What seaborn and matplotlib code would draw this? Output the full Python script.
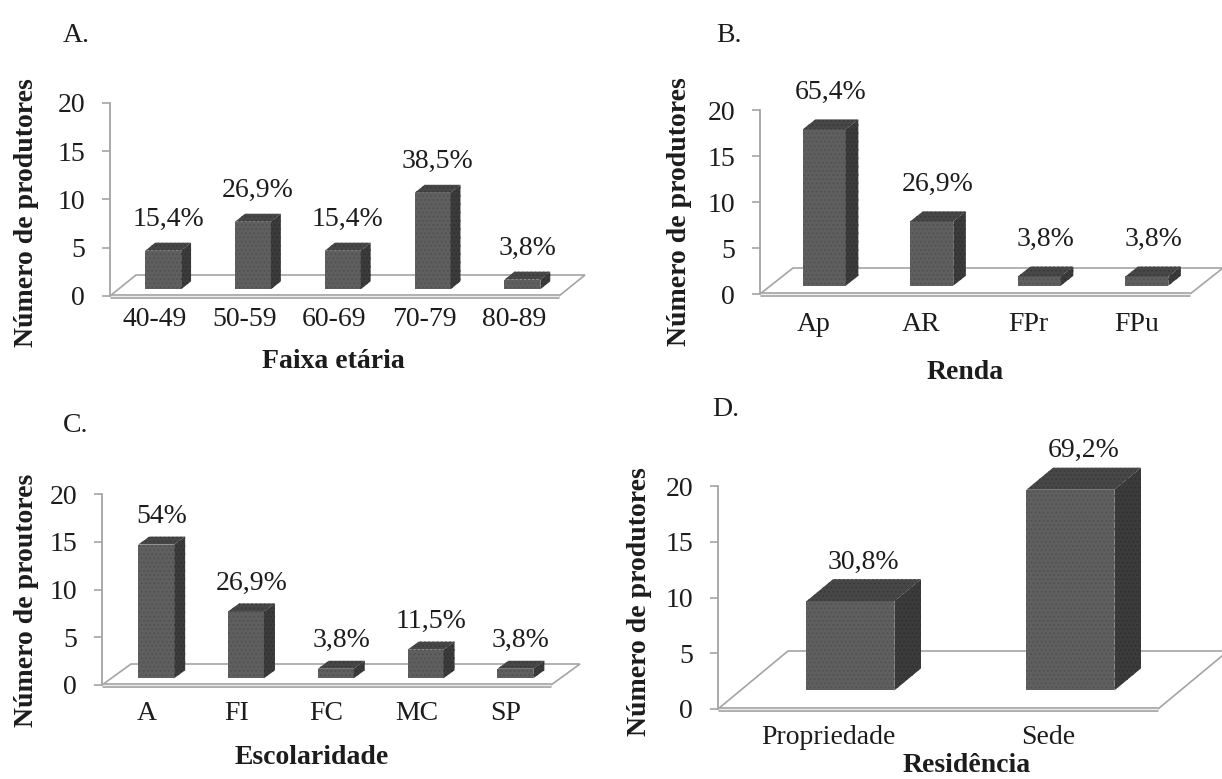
import matplotlib
matplotlib.use("Agg")
import matplotlib.pyplot as plt
from matplotlib.patches import Polygon
import pandas as pd
import seaborn as sns

W, H = 1222, 779

# A. Faixa etária
faixa_cats = ["40-49", "50-59", "60-69", "70-79", "80-89"]
faixa_vals = [4, 7, 4, 10, 1]
faixa_pct = ["15,4%", "26,9%", "15,4%", "38,5%", "3,8%"]

# B. Renda
renda_cats = ["Ap", "AR", "FPr", "FPu"]
renda_vals = [17, 7, 1, 1]
renda_pct = ["65,4%", "26,9%", "3,8%", "3,8%"]

# C. Escolaridade
escol_cats = ["A", "FI", "FC", "MC", "SP"]
escol_vals = [14, 7, 1, 3, 1]
escol_pct = ["54%", "26,9%", "3,8%", "11,5%", "3,8%"]

# D. Residência
resid_cats = ["Propriedade", "Sede"]
resid_vals = [8, 18]
resid_pct = ["30,8%", "69,2%"]

y_ticks = [0, 5, 10, 15, 20]

sns.set_theme(style="white")
plt.rcParams["font.family"] = ["Liberation Serif", "DejaVu Serif"]
plt.rcParams["hatch.linewidth"] = 0.8

FS = 20
FRONT = "#5f5f5f"
TOP = "#474747"
SIDE = "#3b3b3b"
DOT = "#525252"
GRID = "#a4a4a4"
INK = "#1c1c1c"


def px(v):
    return v * 72.0 / 100.0


def draw_panel(fig, cats, vals, pcts, box, depth, ylabel, xlabel,
               ylabel_xy, xlabel_xy, letter, letter_xy, label_gap, xpad):
    x0, x1, ytop, ybot = box
    ax = fig.add_axes([x0 / W, 1 - ybot / H, (x1 - x0) / W, (ybot - ytop) / H])
    n = len(cats)
    df = pd.DataFrame({"cat": cats, "n": vals})
    sns.barplot(data=df, x="cat", y="n", ax=ax, color=FRONT, saturation=1,
                width=0.4, errorbar=None, edgecolor=DOT, linewidth=0,
                hatch="....", zorder=3)
    ax.set_xlim(-0.5, n - 0.5)
    ax.set_ylim(0, 20)

    # depth of the 3-D box, converted from pixels into data units
    ux = (x1 - x0) / n
    uy = (ybot - ytop) / 20.0
    dx, dy = depth[0] / ux, depth[1] / uy
    fx, fy = 0.32 * dx, 0.32 * dy
    bx, by = 0.38 * dx, 0.38 * dy

    # floor
    floor = Polygon([(-0.5, 0), (n - 0.5, 0), (n - 0.5 + dx, dy), (-0.5 + dx, dy)],
                    closed=True, facecolor="white", edgecolor=GRID, lw=1.2,
                    zorder=1, clip_on=False)
    ax.add_patch(floor)
    ax.plot([-0.5, n - 0.5], [0, 0], color=GRID, lw=3.4,
            solid_capstyle="butt", zorder=2, clip_on=False)
    ax.plot([-0.5, n - 0.5], [0, 0], color="#eeeeee", lw=1.0,
            solid_capstyle="butt", zorder=2.1, clip_on=False)

    for p, lab in zip(ax.patches[:n], pcts):
        p.set_x(p.get_x() + fx)
        p.set_y(fy)
        p.set_clip_on(False)
        xa, xb = p.get_x(), p.get_x() + p.get_width()
        ya, yb = fy, fy + p.get_height()
        top = Polygon([(xa, yb), (xb, yb), (xb + bx, yb + by), (xa + bx, yb + by)],
                      closed=True, facecolor=TOP, edgecolor="#3a3a3a", lw=0,
                      hatch="....", zorder=3, clip_on=False)
        side = Polygon([(xb, ya), (xb, yb), (xb + bx, yb + by), (xb + bx, ya + by)],
                       closed=True, facecolor=SIDE, edgecolor="#303030", lw=0,
                       hatch="....", zorder=3, clip_on=False)
        ax.add_patch(top)
        ax.add_patch(side)
        ax.annotate(lab, xy=((xa + xb + bx) / 2, yb + by), xytext=(0, label_gap),
                    textcoords="offset pixels", ha="center", va="center",
                    fontsize=FS, color=INK, annotation_clip=False)

    for s in ["top", "right", "bottom"]:
        ax.spines[s].set_visible(False)
    ax.spines["left"].set_color(GRID)
    ax.spines["left"].set_linewidth(1.3)
    ax.spines["left"].set_zorder(2.5)
    ax.set_yticks(y_ticks)
    ax.tick_params(axis="y", left=True, length=px(8), width=1.2, color=GRID,
                   pad=px(17), labelsize=FS, labelcolor=INK)
    ax.set_xticks(range(n))
    ax.set_xticklabels(cats)
    ax.tick_params(axis="x", bottom=False, length=0, pad=px(xpad),
                   labelsize=FS, labelcolor=INK)
    ax.set_xlabel("")
    ax.set_ylabel("")
    ax.set_facecolor("none")

    fig.text(ylabel_xy[0] / W, 1 - ylabel_xy[1] / H, ylabel, rotation=90,
             ha="center", va="center", fontsize=FS, fontweight="bold", color=INK)
    fig.text(xlabel_xy[0] / W, 1 - xlabel_xy[1] / H, xlabel,
             ha="center", va="center", fontsize=FS, fontweight="bold", color=INK)
    fig.text(letter_xy[0] / W, 1 - letter_xy[1] / H, letter,
             ha="center", va="center", fontsize=FS, color=INK)
    return ax


fig = plt.figure(figsize=(W / 100, H / 100), dpi=100)
fig.patch.set_facecolor("white")

draw_panel(fig, faixa_cats, faixa_vals, faixa_pct, (110, 559, 103, 296), (26, 21),
           "Número de produtores", "Faixa etária", (27, 213), (333, 362),
           "A.", (76, 35), 23, 11)
draw_panel(fig, renda_cats, renda_vals, renda_pct, (760, 1190, 110, 294), (33, 26),
           "Número de produtores", "Renda", (680, 212), (965, 372),
           "B.", (729, 35), 27, 18)
draw_panel(fig, escol_cats, escol_vals, escol_pct, (102, 551, 494, 685), (29, 21),
           "Número de proutores", "Escolaridade", (27, 600), (312, 758),
           "C.", (76, 426), 20, 16)
draw_panel(fig, resid_cats, resid_vals, resid_pct, (718, 1158, 486, 709), (70, 58),
           "Número de produtores", "Residência", (640, 602), (967, 766),
           "D.", (726, 410), 17, 16)

fig.savefig("out.png", dpi=100, facecolor="white")
